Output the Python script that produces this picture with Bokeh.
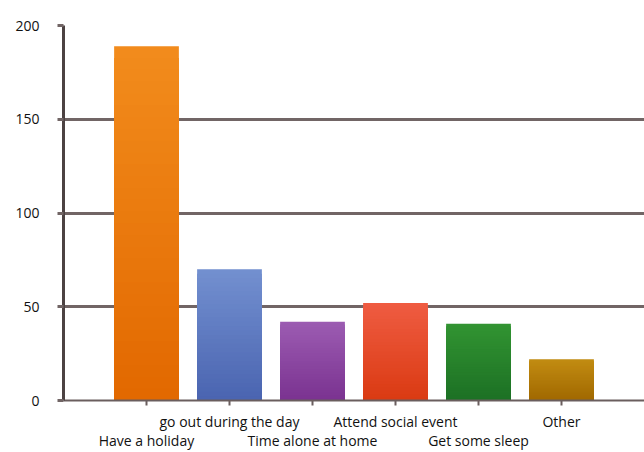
from bokeh.plotting import figure
from bokeh.models import Range1d, FixedTicker, ColumnDataSource
from bokeh.embed import file_html
from bokeh.resources import INLINE

# Survey answers and counts
categories = ["Have a holiday", "go out during the day", "Time alone at home",
              "Attend social event", "Get some sleep", "Other"]
counts = [189, 70, 42, 52, 41, 22]
y_ticks = [0, 50, 100, 150, 200]

# top / bottom colours of each bar's vertical gradient
top_colors = ["#F28C1C", "#7390D0", "#9C5CB2", "#EF5C42", "#329432", "#C28C12"]
bottom_colors = ["#E26800", "#4A64B0", "#7A3290", "#DA3A12", "#1C7024", "#A06800"]

FONT = "Open Sans"
GRID = "#716565"

positions = list(range(1, len(categories) + 1))

p = figure(width=644, height=452, output_backend="svg", toolbar_location=None,
           x_range=Range1d(0, len(categories) + 1), y_range=Range1d(0, 200),
           min_border_left=63, min_border_right=0, min_border_top=25,
           min_border_bottom=51)
p.outline_line_color = None
p.background_fill_color = "white"
p.border_fill_color = "white"


def hex_to_rgb(h):
    return tuple(int(h[i:i + 2], 16) for i in (1, 3, 5))


def blend(c0, c1, t):
    a, b = hex_to_rgb(c0), hex_to_rgb(c1)
    return "#%02x%02x%02x" % tuple(round(a[k] + (b[k] - a[k]) * t) for k in range(3))


# gradient bars: nested bars from the baseline, tallest (lightest) first,
# each shorter one painted over the previous
steps = 30
xs, tops, colors = [], [], []
for i in reversed(range(steps)):
    for x, v, ct, cb in zip(positions, counts, top_colors, bottom_colors):
        xs.append(x)
        tops.append(v * (i + 1) / steps)
        colors.append(blend(cb, ct, (i + 0.5) / steps))
src = ColumnDataSource(dict(x=xs, top=tops, color=colors))
p.vbar(x="x", bottom=0, top="top", width=0.78, fill_color="color",
       line_color=None, source=src)

# horizontal grid drawn behind bars
p.xgrid.visible = False
p.ygrid.ticker = FixedTicker(ticks=y_ticks[1:])
p.ygrid.grid_line_color = GRID
p.ygrid.grid_line_width = 3
p.ygrid.level = "underlay"

# y axis
p.yaxis.ticker = FixedTicker(ticks=y_ticks)
p.yaxis.axis_line_color = "#4c4242"
p.yaxis.axis_line_width = 3
p.yaxis.major_tick_line_color = GRID
p.yaxis.major_tick_line_width = 3
p.yaxis.major_tick_out = 6
p.yaxis.major_tick_in = 0
p.yaxis.minor_tick_line_color = None
p.yaxis.major_label_standoff = 18
p.yaxis.major_label_text_font = FONT
p.yaxis.major_label_text_font_size = "14px"
p.yaxis.major_label_text_color = "#111111"

# x axis: labels alternate between an upper and a lower row
p.xaxis.ticker = FixedTicker(ticks=positions)
p.xaxis.major_label_overrides = {
    x: (c if i % 2 == 1 else "\n" + c) for i, (x, c) in enumerate(zip(positions, categories))
}
p.xaxis.axis_line_color = "#6a5e5e"
p.xaxis.axis_line_width = 2
p.xaxis.major_tick_line_color = "#6a5e5e"
p.xaxis.major_tick_line_width = 2
p.xaxis.major_tick_out = 5
p.xaxis.major_tick_in = 0
p.xaxis.minor_tick_line_color = None
p.xaxis.major_label_standoff = 6
p.xaxis.major_label_text_font = FONT
p.xaxis.major_label_text_font_size = "14px"
p.xaxis.major_label_text_line_height = 1.0
p.xaxis.major_label_text_color = "#111111"

open("out.html", "w").write(file_html(p, INLINE))
